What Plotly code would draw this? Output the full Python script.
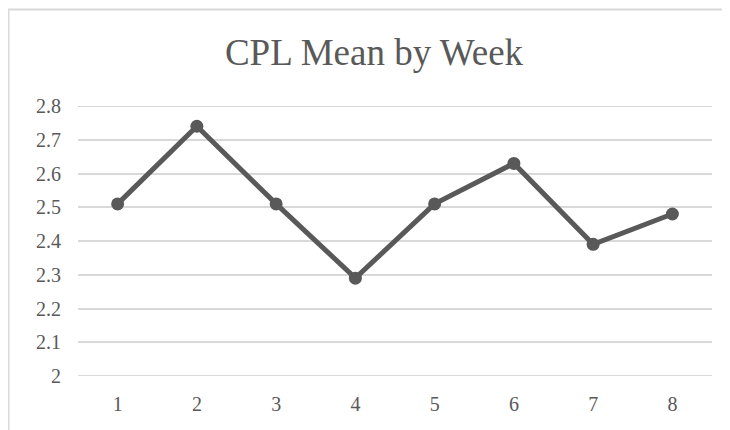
import plotly.graph_objects as go

weeks = ["1", "2", "3", "4", "5", "6", "7", "8"]
cpl_mean = [2.51, 2.74, 2.51, 2.29, 2.51, 2.63, 2.39, 2.48]
y_ticks = [2, 2.1, 2.2, 2.3, 2.4, 2.5, 2.6, 2.7, 2.8]
y_tick_text = ["2", "2.1", "2.2", "2.3", "2.4", "2.5", "2.6", "2.7", "2.8"]

font_family = "Liberation Serif, DejaVu Serif, serif"
grey = "#595959"
grid = "#d9d9d9"

W, H = 722, 422
L, R, T, B = 70, 18, 98, 54

fig = go.Figure(
    go.Scatter(
        x=weeks, y=cpl_mean, mode="lines+markers",
        line=dict(color=grey, width=5),
        marker=dict(color=grey, size=13),
        hoverinfo="x+y",
    )
)

# edge gridlines (plotly hides gridlines lying exactly on the range edges)
edge_lines = [dict(type="line", xref="paper", yref="y", x0=0, x1=1,
                   y0=v, y1=v, line=dict(color=grid, width=2), layer="below")
              for v in (y_ticks[0], y_ticks[-1])]

fig.update_layout(
    width=W, height=H,
    margin=dict(l=L, r=R, t=T, b=B, pad=0),
    paper_bgcolor="white", plot_bgcolor="white",
    showlegend=False,
    font=dict(family=font_family, color=grey, size=20),
    title=dict(text="CPL Mean by Week", x=366 / W, xanchor="center",
               y=1 - 44.5 / H, yanchor="middle",
               font=dict(family=font_family, size=37, color=grey)),
    xaxis=dict(type="category", range=[-0.5, 7.5], showgrid=False,
               showline=False, zeroline=False, ticks="", ticklen=0,
               ticklabelstandoff=14,
               tickfont=dict(size=20, color=grey)),
    yaxis=dict(range=[y_ticks[0], y_ticks[-1]], tickvals=y_ticks, ticktext=y_tick_text,
               showgrid=True, gridcolor=grid, gridwidth=2,
               zeroline=False, showline=False, ticks="",
               ticklabelstandoff=16,
               tickfont=dict(size=20, color=grey)),
    shapes=[dict(type="rect", xref="paper", yref="paper",
                 x0=(0.5 - L) / (W - L - R), x1=1.2,
                 y0=-0.5, y1=(H - B - 1.5) / (H - T - B),
                 line=dict(color=grid, width=2),
                 fillcolor="rgba(0,0,0,0)", layer="below")] + edge_lines,
)

fig.write_html("out.html")
